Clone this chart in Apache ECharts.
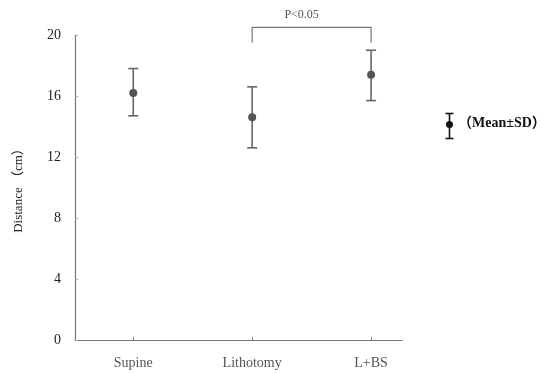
<!DOCTYPE html>
<html>
<head>
<meta charset="utf-8">
<script src="https://cdn.jsdelivr.net/npm/echarts@6/dist/echarts.min.js"></script>
<style>
  html, body { margin: 0; padding: 0; background: #fff; }
  #chart { width: 551px; height: 374px; }
</style>
</head>
<body>
<div id="chart"></div>
<script>
  // data
  const categories = ['Supine', 'Lithotomy', 'L+BS'];
  const means = [16.2, 14.6, 17.4];
  const upper = [17.8, 16.6, 19.0];
  const lower = [14.7, 12.6, 15.7];
  const yTicks = [0, 4, 8, 12, 16, 20];
  // significance bracket: from category, to category, top, leg bottom
  const bracket = [[1, 2, 20.5, 19.5]];
  const bracketLabel = 'P<0.05';

  const serif = '"Liberation Serif", "Times New Roman", "Noto Sans CJK SC", serif';
  const myChart = echarts.init(document.getElementById('chart'));

  const errData = categories.map((c, i) => [i, lower[i], upper[i]]);
  const meanData = categories.map((c, i) => [i, means[i]]);

  myChart.setOption({
    animation: false,
    backgroundColor: '#fff',
    grid: { left: 75, right: 149, top: 35, bottom: 34 },
    xAxis: {
      type: 'value',
      min: -0.49,
      max: 2.26,
      splitLine: { show: false },
      axisLine: { onZero: false, lineStyle: { color: '#777', width: 1.2 } },
      axisTick: {
        inside: true, length: 3,
        customValues: [0, 1, 2],
        lineStyle: { color: '#888' }
      },
      axisLabel: {
        customValues: [0, 1, 2],
        formatter: v => categories[Math.round(v)],
        fontFamily: serif, fontSize: 14, color: '#555', margin: 16
      }
    },
    yAxis: {
      type: 'value',
      min: 0, max: 20, interval: 4,
      name: 'Distance （cm）',
      nameLocation: 'middle',
      nameGap: 50,
      nameTextStyle: { fontFamily: serif, fontSize: 13, color: '#222' },
      splitLine: { show: false },
      axisLine: { show: true, onZero: false, lineStyle: { color: '#777', width: 1.2 } },
      axisTick: { show: true, inside: true, length: 3, lineStyle: { color: '#aaa' } },
      axisLabel: {
        fontFamily: serif, fontSize: 14, color: '#222', margin: 14,
        formatter: v => yTicks.includes(v) ? String(v) : ''
      }
    },
    series: [
      {
        type: 'custom',
        name: 'sd',
        data: errData,
        renderItem: (params, api) => {
          const top = api.coord([api.value(0), api.value(2)]);
          const bot = api.coord([api.value(0), api.value(1)]);
          const w = 5;
          const style = { stroke: '#666', lineWidth: 1.6 };
          return {
            type: 'group',
            children: [
              { type: 'line', shape: { x1: top[0], y1: top[1], x2: bot[0], y2: bot[1] }, style },
              { type: 'line', shape: { x1: top[0] - w, y1: top[1], x2: top[0] + w, y2: top[1] }, style },
              { type: 'line', shape: { x1: bot[0] - w, y1: bot[1], x2: bot[0] + w, y2: bot[1] }, style }
            ]
          };
        }
      },
      {
        type: 'scatter',
        name: 'mean',
        data: meanData,
        symbolSize: 8,
        itemStyle: { color: '#555', opacity: 1 },
        z: 3
      },
      {
        type: 'custom',
        name: 'bracket',
        data: bracket,
        clip: false,
        renderItem: (params, api) => {
          const a = api.coord([api.value(0), api.value(2)]);
          const b = api.coord([api.value(1), api.value(2)]);
          const a2 = api.coord([api.value(0), api.value(3)]);
          const b2 = api.coord([api.value(1), api.value(3)]);
          return {
            type: 'group',
            children: [
              {
                type: 'polyline',
                shape: { points: [a2, a, b, b2] },
                style: { stroke: '#777', lineWidth: 1.2, fill: null }
              },
              {
                type: 'text',
                x: (a[0] + b[0]) / 2 - 10,
                y: a[1] - 7,
                style: {
                  text: bracketLabel, fontFamily: serif, fontSize: 12,
                  fill: '#555', align: 'center', verticalAlign: 'bottom'
                }
              }
            ]
          };
        }
      }
    ],
    graphic: [
      {
        type: 'group',
        left: 443,
        top: 111,
        children: [
          { type: 'line', shape: { x1: 5, y1: 0, x2: 5, y2: 25 }, style: { stroke: '#111', lineWidth: 1.6 } },
          { type: 'line', shape: { x1: 1, y1: 0, x2: 9, y2: 0 }, style: { stroke: '#111', lineWidth: 1.6 } },
          { type: 'line', shape: { x1: 1, y1: 25, x2: 9, y2: 25 }, style: { stroke: '#111', lineWidth: 1.6 } },
          { type: 'circle', shape: { cx: 5, cy: 11, r: 3.5 }, style: { fill: '#111' } }
        ]
      },
      {
        type: 'text',
        left: 458,
        top: 116,
        style: {
          text: '（Mean±SD）', fontFamily: serif, fontSize: 14,
          fontWeight: 'bold', fill: '#111'
        }
      }
    ]
  });
</script>
</body>
</html>
